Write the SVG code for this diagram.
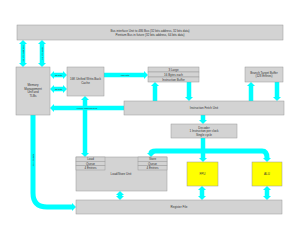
<svg xmlns="http://www.w3.org/2000/svg" width="300" height="240" viewBox="0 0 300 240">
<style>
.box{fill:#D3D3D3;stroke:#999999;stroke-width:0.5}
.yel{fill:#FFFF00;stroke:#999999;stroke-width:0.5}
.t{font-family:"Liberation Sans",Arial,sans-serif;font-size:3px;fill:#333333;text-anchor:middle}
.lbl{font-family:"Liberation Sans",Arial,sans-serif;font-size:2.4px;fill:#333333;text-anchor:middle}
.a{fill:none;stroke:#00FFFF;stroke-width:4.5}
.a1{marker-end:url(#ah)}
.a2{marker-start:url(#ah);marker-end:url(#ah)}
</style>
<defs>
<marker id="ah" viewBox="0 0 4 8" refX="0" refY="4" markerWidth="4" markerHeight="8" markerUnits="userSpaceOnUse" orient="auto-start-reverse">
<path d="M0,0 L4,4 L0,8 z" fill="#00FFFF"/>
</marker>
</defs>
<rect width="300" height="240" fill="#FFFFFF"/>
<g id="connectors">
<line class="a a2" x1="23" y1="44" x2="23" y2="63"/>
<line class="a a2" x1="42" y1="44" x2="42" y2="63"/>
<line class="a a2" x1="54" y1="75" x2="63" y2="75"/>
<line class="a a2" x1="54" y1="89" x2="63" y2="89"/>
<line class="a a1" x1="104" y1="75" x2="144" y2="75"/>
<line class="a a1" x1="155" y1="101" x2="155" y2="86"/>
<line class="a a1" x1="189" y1="82" x2="189" y2="97"/>
<line class="a a1" x1="251" y1="101" x2="251" y2="86"/>
<line class="a a1" x1="277" y1="82" x2="277" y2="97"/>
<line class="a a1" x1="124" y1="108" x2="54" y2="108"/>
<line class="a a2" x1="85" y1="100" x2="85" y2="153"/>
<path class="a a1" d="M33,115 V193 Q33,207 47,207 H72" style="stroke-width:5"/>
<line class="a a1" x1="203" y1="115" x2="203" y2="120"/>
<line class="a a1" x1="203" y1="138" x2="203" y2="158"/>
<path class="a a2" d="M151,153 Q151,151 156,151 H262 Q267,151 267,158" style="stroke-width:5"/>
<line class="a a2" x1="202" y1="190" x2="202" y2="196"/>
<line class="a a2" x1="267" y1="190" x2="267" y2="196"/>
<line class="a a2" x1="120" y1="195" x2="120" y2="196"/>
<text class="lbl" transform="translate(24,53.5) rotate(-90)">32 bits address</text>
<text class="lbl" transform="translate(43,53.5) rotate(-90)">32 bits data</text>
<text class="lbl" x="58.5" y="75.8">32 bits</text>
<text class="lbl" x="58.5" y="89.8">32 bits</text>
<text class="lbl" x="125" y="75.8">128 bits</text>
<text class="lbl" x="87" y="108.8">Linear address bus</text>
<text class="lbl" transform="translate(34,160) rotate(-90)">32 bits data</text>
</g>
<g id="bus">
<rect class="box" x="17" y="25" width="266" height="15"/>
<text class="t" x="150" y="31.5">Bus interface Unit to 486 Bus (32 bits address, 32 bits data)</text>
<text class="t" x="150" y="35.5">Pentium Bus in future (32 bits address, 64 bits data)</text>
</g>
<g id="mmu">
<rect class="box" x="16" y="67" width="34" height="48"/>
<text class="t" x="33" y="86">Memory</text>
<text class="t" x="33" y="89.5">Management</text>
<text class="t" x="33" y="93">Unit and</text>
<text class="t" x="33" y="96.5">TLBs</text>
</g>
<g id="cache">
<rect class="box" x="67" y="67" width="37" height="29"/>
<text class="t" x="85.5" y="80">16K Unified Write-Back</text>
<text class="t" x="85.5" y="83.5">Cache</text>
</g>
<g id="ibuf">
<rect class="box" x="148" y="67" width="51" height="5"/>
<rect class="box" x="148" y="72" width="51" height="5"/>
<rect class="box" x="148" y="77" width="51" height="5"/>
<text class="t" x="173.5" y="70.5">3 Large</text>
<text class="t" x="173.5" y="75.5">16 Bytes each</text>
<text class="t" x="173.5" y="80.5">Instruction Buffer</text>
</g>
<g id="btb">
<rect class="box" x="245" y="67" width="38" height="15"/>
<text class="t" x="264" y="73.5">Branch Target Buffer</text>
<text class="t" x="264" y="77">(128 Entries)</text>
</g>
<g id="ifu">
<rect class="box" x="124" y="101" width="160" height="14"/>
<text class="t" x="204" y="109">Instruction Fetch Unit</text>
</g>
<g id="decoder">
<rect class="box" x="171" y="124" width="66" height="14"/>
<text class="t" x="204" y="128.5">Decoder</text>
<text class="t" x="204" y="132">1 Instruction per clock</text>
<text class="t" x="204" y="135.5">Single cycle</text>
</g>
<g id="lsu">
<rect class="box" x="76" y="157" width="91" height="34"/>
<rect class="box" x="76" y="157" width="29" height="4.3"/>
<rect class="box" x="76" y="161.3" width="29" height="4.3"/>
<rect class="box" x="76" y="165.6" width="29" height="4.4"/>
<rect class="box" x="138" y="157" width="29" height="4.3"/>
<rect class="box" x="138" y="161.3" width="29" height="4.3"/>
<rect class="box" x="138" y="165.6" width="29" height="4.4"/>
<text class="t" x="90.5" y="160.2">Load</text>
<text class="t" x="90.5" y="164.5">Queue</text>
<text class="t" x="90.5" y="168.9">4 Entries</text>
<text class="t" x="152.5" y="160.2">Store</text>
<text class="t" x="152.5" y="164.5">Queue</text>
<text class="t" x="152.5" y="168.9">4 Entries</text>
<text class="t" x="121" y="175">Load/Store Unit</text>
</g>
<g id="fpu">
<rect class="yel" x="187" y="162" width="31" height="24"/>
<text class="t" x="202.5" y="175">FPU</text>
</g>
<g id="alu">
<rect class="yel" x="252" y="162" width="30" height="24"/>
<text class="t" x="267" y="175">ALU</text>
</g>
<g id="regfile">
<rect class="box" x="76" y="200" width="206" height="14"/>
<text class="t" x="179" y="208">Register File</text>
</g>
</svg>
